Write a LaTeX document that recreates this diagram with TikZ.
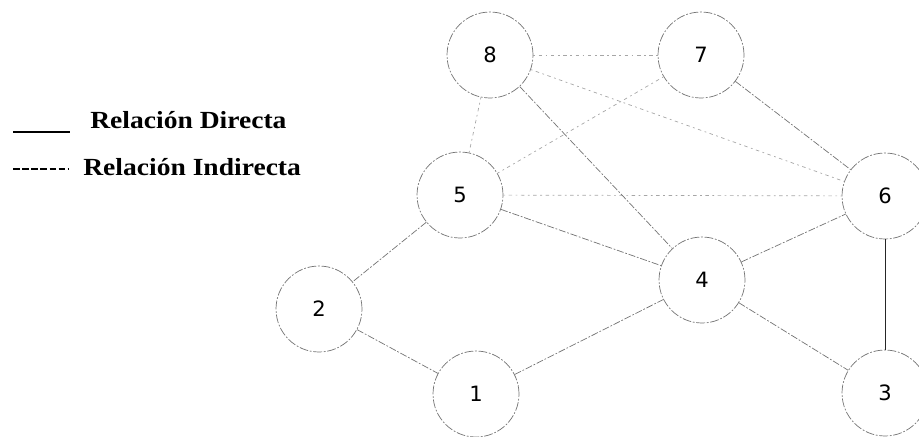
\documentclass[tikz,border=0pt]{standalone}
\usepackage{fontspec}
\newfontfamily\legendfont[FakeStretch=1.12]{Liberation Serif}
\newfontfamily\digitfont{DejaVu Sans}
\tikzset{
  vert/.style={circle, draw=black!55, dash pattern=on 5pt off 1pt on 1pt off 1pt,
    minimum size=1.72cm, inner sep=0pt, font=\digitfont\fontsize{12}{12}\selectfont},
  direct/.style={black!55, dash pattern=on 4pt off 1pt on 1pt off 1pt},
  indirect/.style={black!35, dash pattern=on 1pt off 2pt on 2pt off 2pt},
  legend/.style={anchor=base west, inner sep=0pt, font=\legendfont\bfseries\fontsize{14}{16}\selectfont}
}
\begin{document}
\begin{tikzpicture}[x=0.02cm,y=-0.02cm]
    \useasboundingbox (0,0) rectangle (919,436);
    % legend
    \coordinate (d1) at (13,132);
    \coordinate (d2) at (70,132);
    \coordinate (i1) at (13,169);
    \coordinate (i2) at (68,169);
    \draw [semithick] (d1) -- (d2);
    \draw [semithick, dash pattern=on 3.8pt off 1.4pt] (i1) -- (i2);
    \node [legend] (ldir) at (90,128) {Relación Directa};
    \node [legend] (lind) at (83,175) {Relación Indirecta};
    % nodes
    \node [vert] (n8) at (490,55) {8};
    \node [vert] (n7) at (701,55) {7};
    \node [vert] (n5) at (460,195) {5};
    \node [vert] (n6) at (885,196) {6};
    \node [vert] (n4) at (702,280) {4};
    \node [vert] (n2) at (319,309) {2};
    \node [vert] (n1) at (476,394) {1};
    \node [vert] (n3) at (885,393) {3};
    % indirect relations
    \draw [indirect] (n8) -- (n7);
    \draw [indirect] (n8) -- (n6);
    \draw [indirect] (n7) -- (n5);
    \draw [indirect] (n5) -- (n6);
    \draw [indirect] (n5) -- (n8);
    % direct relations
    \draw [direct] (n8) -- (n4);
    \draw [direct] (n7) -- (n6);
    \draw [direct] (n5) -- (n4);
    \draw [direct] (n5) -- (n2);
    \draw [direct] (n2) -- (n1);
    \draw [direct] (n1) -- (n4);
    \draw [direct] (n4) -- (n6);
    \draw [direct] (n4) -- (n3);
    \draw [black!85] (n6) -- (n3);
\end{tikzpicture}
\end{document}
